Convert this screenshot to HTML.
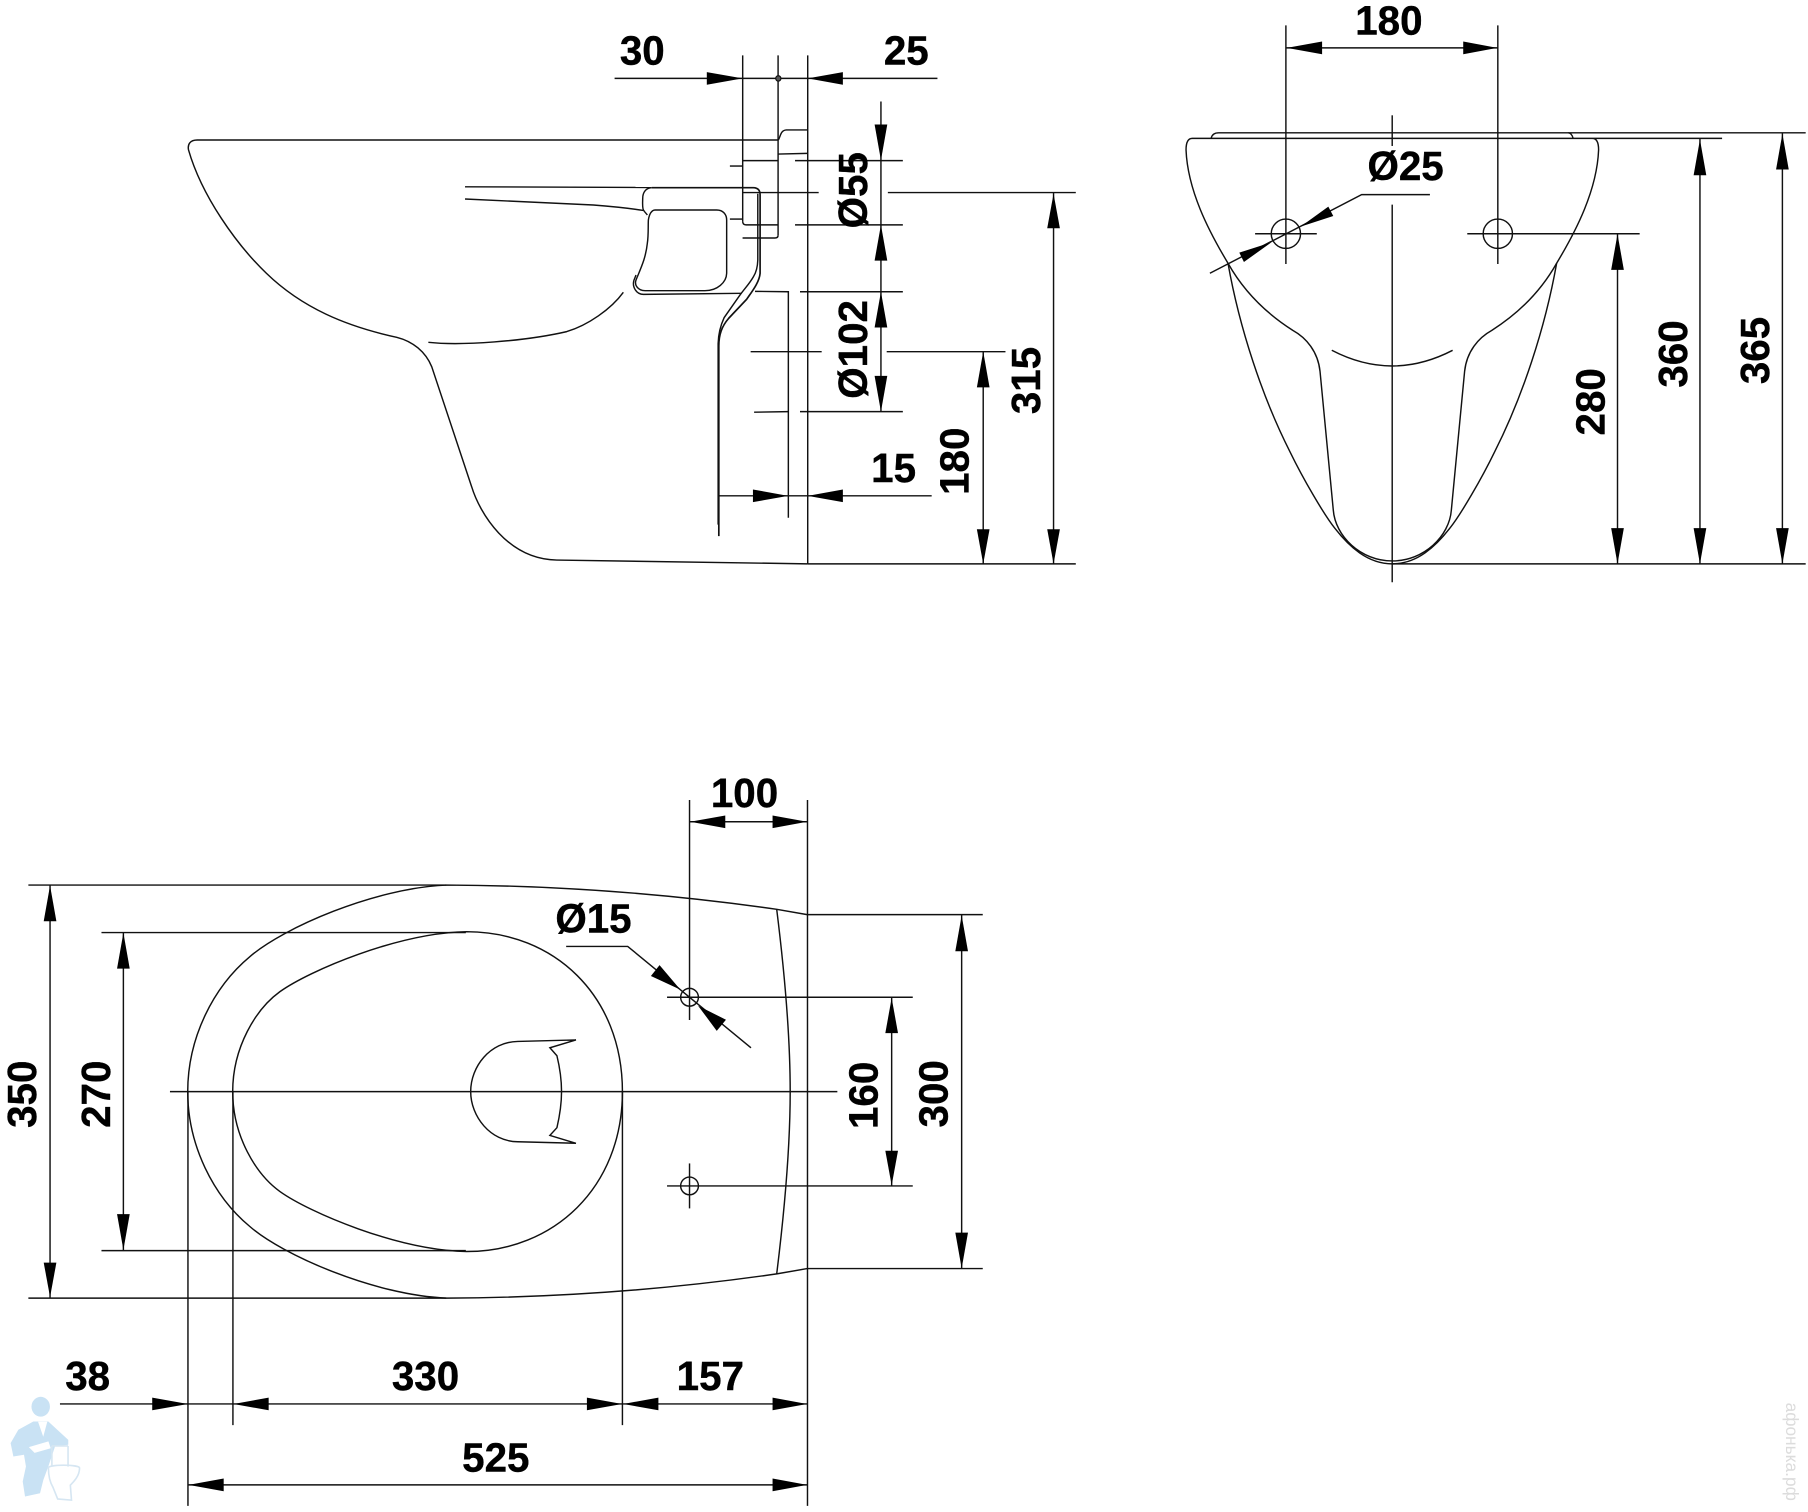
<!DOCTYPE html>
<html>
<head>
<meta charset="utf-8">
<style>
html,body{margin:0;padding:0;background:#fff;width:1808px;height:1512px;overflow:hidden}
svg{display:block}
text{font-family:"Liberation Sans",sans-serif;font-weight:bold;font-size:35px;fill:#000;stroke:#000;stroke-width:.35;text-anchor:middle}
.l path,.l line,.l circle{fill:none;stroke:#111;stroke-width:1.25}
.a polygon{fill:#000}
</style>
</head>
<body>
<svg width="1808" height="1512" viewBox="0 0 1568 1311.3" xmlns="http://www.w3.org/2000/svg">
<rect x="0" y="0" width="1568" height="1312" fill="#fff"/>

<!-- watermark -->
<g>
<ellipse cx="35.3" cy="1220" rx="8" ry="8.6" fill="#c9e2f4"/>
<polygon fill="#c9e2f4" points="28.9,1232.8 41.9,1232.8 59.2,1248.7 59.2,1253 47.7,1254.5 41.9,1271.8 37.6,1283.4 34.7,1295 21.7,1297.9 19.7,1284.8 22.5,1271.8 20.8,1261.7 11.6,1263.2 9.2,1251.6 15.9,1240"/>
<path d="M33,1233 L37.5,1246 L41,1233 Z M25,1255 L42,1250 L44,1256 L30,1260 Z" fill="#fff"/>
<path d="M45,1254 L45,1272 M59,1254 L59,1272 M45,1254 L59,1254 M42,1273 C42,1270 68,1270 69,1273 C69,1280 64,1285 61,1288 L62,1301 L50,1300 L46,1290 C43,1285 42,1280 42,1273 Z" fill="#fff" stroke="#d6e6f2" stroke-width="1.4"/>
<text transform="translate(1549,1259) rotate(90)" style="font-size:15px;font-weight:normal;fill:#dcdcdc;stroke:none">афонька.рф</text>
</g>

<g class="l">
<!-- SIDE VIEW -->
<path d="M675,121.4 L171,121.4 C165,121.4 162.5,125 163.5,130 C175,170 205,212 231,237 C262,267 300,283 344,292.5 C358,296 369,305 374.4,318 L409,422 C416,445 440,485 482.8,485.7 L700.5,489"/>
<path d="M371.5,296.9 C400,300 455,296 491.5,287.6 C510,282 530,268 540.6,253.5"/>
<path d="M403.3,162 L565,162.6"/>
<path d="M403.3,172.6 L514.6,177.8 C530,179 545,180.5 558,182.5"/>
<path d="M675,121.4 C677,118 677,113 682,112.7 L700.5,112.7"/>
<path d="M675,133.6 L700,133"/>
<line x1="644.1" y1="48" x2="644.1" y2="192"/>
<path d="M644.1,192 Q644.1,195 647,195 L675,195"/>
<line x1="674.8" y1="48" x2="674.8" y2="204"/>
<path d="M674.8,204 Q674.8,206.4 672,206.4 L644,206.4"/>
<line x1="644" y1="139.3" x2="675" y2="139.3"/>
<line x1="633" y1="144" x2="644" y2="144"/>
<line x1="633" y1="190" x2="644" y2="190"/>
<line x1="700.5" y1="48" x2="700.5" y2="489"/>
<line x1="689.5" y1="139.3" x2="783" y2="139.3"/>
<line x1="689.5" y1="195" x2="783" y2="195"/>
<line x1="693.8" y1="253" x2="783" y2="253"/>
<line x1="693.8" y1="357" x2="783" y2="357"/>
<line x1="644" y1="167" x2="710" y2="167"/>
<line x1="770" y1="167" x2="933" y2="167"/>
<line x1="651" y1="305" x2="712.6" y2="305"/>
<line x1="769" y1="305" x2="872" y2="305"/>
<line x1="654" y1="357.5" x2="683.7" y2="357"/>
<path d="M654.8,252.7 L683.7,253 L683.7,449"/>
<line x1="700.5" y1="489" x2="933" y2="489"/>

<!-- wall double line -->
<path d="M565.2,162.8 L653.4,162.8 Q659.2,163 659.2,169 L659.2,237 C658.5,245 652,253 647.6,259.5 L632,276 C626,283 623.4,290 623.4,300 L623.4,465" style="stroke-width:1.45"/>
<path d="M657.2,168 L657.2,225.5 C657,232 656,236 653.4,240 C650,246 646,250 641.8,255.8 L628,275.5 C624.5,283 623,290 622.8,298 L622.8,455"/>
<path d="M565.2,162.8 C560,163 557.4,167 557.4,172 C557.2,177 557,180 558,182.1 C559,184 560.5,185 561.4,186.5"/>
<path d="M568.1,182.1 L621.6,182.1 C627,182.1 630.2,186 630.2,190.8 L630.2,237 C630,245 622,252.1 611.4,252.1 L559.4,252.1 C553,252 550,247 551.6,242.8 C556,232 560,224 561.4,211 C562.5,204 562,196 562.3,190.8 C563,186 565,182.1 568.1,182.1 Z"/>
<path d="M551.6,238.5 L549.8,243 C548,249 552,255.3 558,255.3 L643.2,254.4"/>

<line x1="533" y1="68" x2="813" y2="68"/>
<line x1="623" y1="430" x2="808" y2="430"/>
<line x1="764" y1="88" x2="764" y2="357"/>
<line x1="913.7" y1="167" x2="913.7" y2="489"/>
<line x1="852.7" y1="305" x2="852.7" y2="489"/>
<circle cx="675" cy="68" r="2.3" style="fill:#555;stroke-width:1"/>

<!-- FRONT VIEW -->
<path d="M1050.4,120 C1051,117 1053,115.2 1057,115.2 L1566,115.2"/>
<path d="M1364.3,120 C1363.5,117 1362,115.2 1360,115.2"/>
<path d="M1493.5,120 L1034,120 C1030,120 1028.6,124 1028.6,130 C1030,165 1048,200 1065,228.3 C1080,255 1100,273 1121.2,286.5 C1133,293 1143,305 1144.8,322 L1156.3,442.3 C1158,465 1180,486.5 1207.5,486.5 C1235,486.5 1257,465 1258.7,442.3 L1270.2,322 C1272,305 1282,293 1293.8,286.5 C1315,273 1335,255 1350,228.3 C1367,200 1385,165 1386.4,130 C1386.4,124 1385,120 1381,120"/>
<path d="M1065,228.3 C1075,285 1095,345 1118.7,391.7 C1130,415 1148,446 1157.7,458.2 C1170,474 1186,489 1207.5,489 C1229,489 1245,474 1257.3,458.2 C1267,446 1285,415 1296.3,391.7 C1320,345 1340,285 1350,228.3"/>
<path d="M1155,303.8 Q1207.2,331 1259.8,303.8"/>
<line x1="1207.4" y1="100" x2="1207.4" y2="126.6"/>
<line x1="1207.4" y1="177.5" x2="1207.4" y2="505"/>
<line x1="1115.2" y1="22" x2="1115.2" y2="229"/>
<line x1="1299" y1="22" x2="1299" y2="229"/>
<line x1="1115" y1="41.5" x2="1299" y2="41.5"/>
<circle cx="1115.2" cy="202.7" r="12.7"/>
<circle cx="1299" cy="202.7" r="12.7"/>
<line x1="1088.5" y1="202.7" x2="1142" y2="202.7"/>
<line x1="1272.5" y1="202.7" x2="1422" y2="202.7"/>
<path d="M1049.3,237 L1180.9,168.8 L1240.1,168.8"/>
<line x1="1207" y1="489" x2="1566" y2="489"/>
<line x1="1402.8" y1="202.7" x2="1402.8" y2="489"/>
<line x1="1474.3" y1="120" x2="1474.3" y2="489"/>
<line x1="1545.8" y1="115.2" x2="1545.8" y2="489"/>

<!-- TOP VIEW -->
<path d="M700,793.2 L673.6,788.6 C600,778 500,768 387.4,767.6 C325,770 245,805 216.8,829.6 C185,856 162.8,900 162.8,946.7 C162.8,993.4 185,1037.4 216.8,1063.8 C245,1088.4 325,1123.4 387.4,1125.8 C500,1125.4 600,1115.4 673.6,1104.8 L700,1100.2"/>
<path d="M404.7,808 C345,809 268,842 242.8,860 C222,875 201.8,908 201.8,946.7 C201.8,985.4 222,1018.4 242.8,1033.4 C268,1051.4 345,1084.4 404.7,1085.4 C480,1085.4 539.8,1030 539.8,946.7 C539.8,863 480,808 404.7,808 Z"/>
<path d="M673.6,788.6 C680,840 685.3,900 685.3,946.7 C685.3,993 680,1053 673.6,1104.8"/>
<path d="M499.5,901.9 L449,903.2 C425,903.5 408.2,925 408.2,946.7 C408.2,968 425,990 449,990.2 L499.5,991.5 L476.9,984.7 L483,978 C486,965 487,955 487,946.7 C487,938 486,928 483,915.6 L476.9,908.7 Z"/>
<line x1="147.4" y1="946.7" x2="726.2" y2="946.7"/>
<line x1="598" y1="693.8" x2="598" y2="884.6"/>
<line x1="700.3" y1="693.8" x2="700.3" y2="1306"/>
<line x1="539.8" y1="946.7" x2="539.8" y2="1236"/>
<line x1="163" y1="946.7" x2="163" y2="1306"/>
<line x1="202" y1="946.7" x2="202" y2="1236"/>
<line x1="598" y1="712.7" x2="700" y2="712.7"/>
<circle cx="598" cy="864.9" r="7.7"/>
<circle cx="598" cy="1028.5" r="7.7"/>
<line x1="578.5" y1="864.9" x2="791.6" y2="864.9"/>
<line x1="578.5" y1="1028.5" x2="791.6" y2="1028.5"/>
<line x1="598" y1="1009" x2="598" y2="1048"/>
<path d="M491,820.8 L544.4,820.8 L651.3,908.7"/>
<line x1="773.3" y1="865" x2="773.3" y2="1028.5"/>
<line x1="834" y1="793.2" x2="834" y2="1100.2"/>
<line x1="700" y1="793.2" x2="852.3" y2="793.2"/>
<line x1="700" y1="1100.2" x2="852.3" y2="1100.2"/>
<line x1="24.6" y1="767.6" x2="387" y2="767.6"/>
<line x1="24.6" y1="1125.8" x2="387" y2="1125.8"/>
<line x1="88" y1="808.8" x2="404" y2="808.8"/>
<line x1="88" y1="1084.6" x2="404" y2="1084.6"/>
<line x1="43.4" y1="767.6" x2="43.4" y2="1125.8"/>
<line x1="107" y1="808.8" x2="107" y2="1084.6"/>
<line x1="52" y1="1217.6" x2="700" y2="1217.6"/>
<line x1="163" y1="1287.8" x2="700" y2="1287.8"/>
</g>

<g class="a">
<!-- side -->
<polygon points="644,68 613,62.5 613,73.5"/>
<polygon points="700.5,68 731,62.5 731,73.5"/>
<polygon points="683.5,430 653,424.5 653,435.5"/>
<polygon points="700.5,430 731,424.5 731,435.5"/>
<polygon points="764,139 758.5,108 769.5,108"/>
<polygon points="764,195 758.5,226 769.5,226"/>
<polygon points="764,253 758.5,284 769.5,284"/>
<polygon points="764,357 758.5,326 769.5,326"/>
<polygon points="913.7,168 908.2,198 919.2,198"/>
<polygon points="913.7,489 908.2,459 919.2,459"/>
<polygon points="852.7,305 847.2,336 858.2,336"/>
<polygon points="852.7,489 847.2,459 858.2,459"/>
<!-- front -->
<polygon points="1116,41.5 1146.6,36 1146.6,47"/>
<polygon points="1298.5,41.5 1269,36 1269,47"/>
<polygon points="1128,196.5 1152,179.2 1156.3,187.3"/>
<polygon points="1102.8,210.1 1074.8,219.1 1078.8,227.2"/>
<polygon points="1402.8,203 1397.3,234 1408.3,234"/>
<polygon points="1402.8,489 1397.3,458 1408.3,458"/>
<polygon points="1474.3,121 1468.8,152 1479.8,152"/>
<polygon points="1474.3,489 1468.8,458 1479.8,458"/>
<polygon points="1545.8,116 1540.3,147 1551.3,147"/>
<polygon points="1545.8,489 1540.3,458 1551.3,458"/>
<!-- top -->
<polygon points="598.5,712.7 629,707.2 629,718.2"/>
<polygon points="700,712.7 670,707.2 670,718.2"/>
<polygon points="590,858.3 564.5,846.5 572,837"/>
<polygon points="605.4,872.2 621.6,894 629.6,884.4"/>
<polygon points="773.3,865.5 767.8,896 778.8,896"/>
<polygon points="773.3,1028 767.8,998 778.8,998"/>
<polygon points="834,794 828.5,825 839.5,825"/>
<polygon points="834,1100 828.5,1069 839.5,1069"/>
<polygon points="43.4,768 37.9,799 48.9,799"/>
<polygon points="43.4,1125 37.9,1095 48.9,1095"/>
<polygon points="107,809 101.5,840 112.5,840"/>
<polygon points="107,1084 101.5,1053 112.5,1053"/>
<polygon points="163,1217.6 132,1212.1 132,1223.1"/>
<polygon points="202.5,1217.6 233,1212.1 233,1223.1"/>
<polygon points="539.5,1217.6 509,1212.1 509,1223.1"/>
<polygon points="540.5,1217.6 571,1212.1 571,1223.1"/>
<polygon points="700,1217.6 670,1212.1 670,1223.1"/>
<polygon points="163.5,1287.8 194,1282.3 194,1293.3"/>
<polygon points="700,1287.8 670,1282.3 670,1293.3"/>
</g>

<!-- labels -->
<text x="557" y="56">30</text>
<text x="786" y="56">25</text>
<text x="775" y="418">15</text>
<text transform="translate(752,165) rotate(-90)">Ø55</text>
<text transform="translate(752,303) rotate(-90)">Ø102</text>
<text transform="translate(840,400) rotate(-90)">180</text>
<text transform="translate(902,330) rotate(-90)">315</text>

<text x="1204.5" y="30">180</text>
<text x="1219" y="156">Ø25</text>
<text transform="translate(1391.6,348.5) rotate(-90)">280</text>
<text transform="translate(1463,307) rotate(-90)">360</text>
<text transform="translate(1534,304) rotate(-90)">365</text>

<text x="645.7" y="700">100</text>
<text x="514.7" y="808.7">Ø15</text>
<text transform="translate(761,950) rotate(-90)">160</text>
<text transform="translate(821.6,948.6) rotate(-90)">300</text>
<text transform="translate(31,949) rotate(-90)">350</text>
<text transform="translate(95.4,949) rotate(-90)">270</text>
<text x="76" y="1205.4">38</text>
<text x="369" y="1205.4">330</text>
<text x="616" y="1205.4">157</text>
<text x="430" y="1276">525</text>
</svg>
</body>
</html>
